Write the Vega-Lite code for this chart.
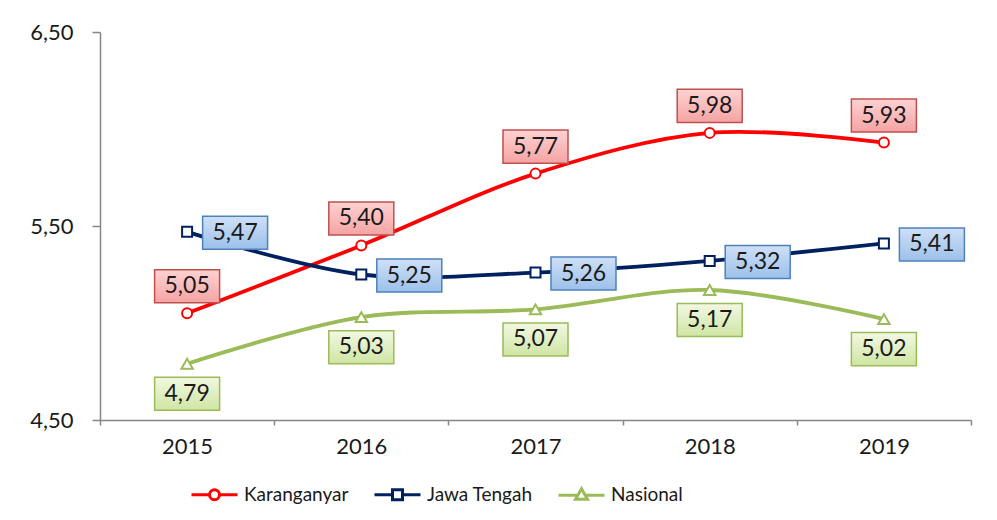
{
  "$schema": "https://vega.github.io/schema/vega-lite/v6.json",
  "width": 871,
  "height": 388,
  "autosize": {"type": "none"},
  "padding": {"left": 100, "top": 32, "right": 26, "bottom": 100},
  "background": "white",
  "config": {
    "locale": {"number": {"decimal": ",", "thousands": ".", "grouping": [3], "currency": ["", ""]}},
    "view": {"stroke": null},
    "font": "Lato",
    "legend": {
      "orient": "none", "legendX": 103, "legendY": 451, "direction": "horizontal", "padding": 0,
      "labelFont": "Lato", "labelFontSize": 19, "labelColor": "#1a1a1a", "labelOffset": 18, "columnPadding": 19,
      "symbolSize": 400, "symbolStrokeWidth": 3
    }
  },
  "data": {
    "values": [
      {"series": "Karanganyar", "year": "2015", "value": 5.05},
      {"series": "Karanganyar", "year": "2016", "value": 5.40},
      {"series": "Karanganyar", "year": "2017", "value": 5.77},
      {"series": "Karanganyar", "year": "2018", "value": 5.98},
      {"series": "Karanganyar", "year": "2019", "value": 5.93},
      {"series": "Jawa Tengah", "year": "2015", "value": 5.47},
      {"series": "Jawa Tengah", "year": "2016", "value": 5.25},
      {"series": "Jawa Tengah", "year": "2017", "value": 5.26},
      {"series": "Jawa Tengah", "year": "2018", "value": 5.32},
      {"series": "Jawa Tengah", "year": "2019", "value": 5.41},
      {"series": "Nasional", "year": "2015", "value": 4.79},
      {"series": "Nasional", "year": "2016", "value": 5.03},
      {"series": "Nasional", "year": "2017", "value": 5.07},
      {"series": "Nasional", "year": "2018", "value": 5.17},
      {"series": "Nasional", "year": "2019", "value": 5.02}
    ]
  },
  "encoding": {
    "x": {
      "field": "year", "type": "ordinal",
      "scale": {"type": "band", "paddingInner": 0, "paddingOuter": 0},
      "axis": {"title": null, "labelAngle": 0, "labelFont": "Lato", "labelFontSize": 22, "labelColor": "#1a1a1a", "labelPadding": 11, "tickSize": 5, "tickColor": "#868686", "tickWidth": 1.5, "domainColor": "#868686", "domainWidth": 1.5, "tickBand": "extent", "grid": false}
    },
    "y": {
      "field": "value", "type": "quantitative",
      "scale": {"domain": [4.5, 6.5], "nice": false, "zero": false},
      "axis": {"title": null, "values": [4.5, 5.5, 6.5], "format": ".2f", "labelFont": "Lato", "labelFontSize": 22, "labelColor": "#1a1a1a", "labelPadding": 19, "tickSize": 8, "tickColor": "#868686", "tickWidth": 1.5, "domainColor": "#868686", "domainWidth": 1.5, "grid": false}
    }
  },
  "layer": [
    {
      "mark": {"type": "line", "interpolate": "catmull-rom", "strokeWidth": 3.8},
      "encoding": {
        "color": {
          "field": "series", "type": "nominal",
          "scale": {"domain": ["Karanganyar", "Jawa Tengah", "Nasional"], "range": ["#FF0000", "#002060", "#9BBB59"]},
          "legend": {
            "title": null,
            "encode": {
              "symbols": {
                "update": {
                  "shape": {"signal": "datum.value === 'Karanganyar' ? 'M-2.3,0L-0.5,0M0.5,0L2.3,0M-0.5,0A0.5,0.5 0 1,0 0.5,0A0.5,0.5 0 1,0 -0.5,0Z' : datum.value === 'Jawa Tengah' ? 'M-2.3,0L-0.5,0M0.5,0L2.3,0M-0.5,-0.5L0.5,-0.5L0.5,0.5L-0.5,0.5Z' : 'M-2.3,0L-0.45,0M0.45,0L2.3,0M0,-0.65L0.6,0.4L-0.6,0.4Z'"},
                  "fill": {"value": "white"},
                  "strokeWidth": {"value": 3},
                  "opacity": {"value": 1}
                }
              }
            }
          }
        }
      }
    },
    {
      "transform": [{"filter": "datum.series === 'Karanganyar'"}],
      "mark": {"type": "point", "shape": "circle", "filled": false, "fill": "white", "stroke": "#FF0000", "opacity": 1, "strokeWidth": 2, "size": 100}
    },
    {
      "transform": [{"filter": "datum.series === 'Jawa Tengah'"}],
      "mark": {"type": "point", "shape": "square", "filled": false, "fill": "white", "stroke": "#002060", "opacity": 1, "strokeWidth": 2, "size": 100}
    },
    {
      "transform": [{"filter": "datum.series === 'Nasional'"}],
      "mark": {"type": "point", "shape": "triangle-up", "filled": false, "fill": "white", "stroke": "#9BBB59", "opacity": 1, "strokeWidth": 2, "size": 130}
    },
    {
      "transform": [{"filter": "datum.series === 'Karanganyar'"}],
      "layer": [
        {"mark": {"type": "point", "shape": "M-1,-0.508L1,-0.508L1,0.508L-1,0.508Z", "size": 4225, "filled": true, "opacity": 1,
          "fill": {"gradient": "linear", "x1": 0, "y1": 0, "x2": 0, "y2": 1, "stops": [{"offset": 0, "color": "#FFD2D2"}, {"offset": 1, "color": "#F5A3A3"}]},
          "stroke": "#C0504D", "strokeWidth": 1.5, "yOffset": -27}},
        {"mark": {"type": "text", "yOffset": -27, "font": "Lato", "fontSize": 23, "color": "#1a1a1a", "baseline": "middle", "align": "center"},
          "encoding": {"text": {"field": "value", "type": "quantitative", "format": ".2f"}}}
      ]
    },
    {
      "transform": [{"filter": "datum.series === 'Jawa Tengah'"}],
      "layer": [
        {"mark": {"type": "point", "shape": "M-1,-0.508L1,-0.508L1,0.508L-1,0.508Z", "size": 4225, "filled": true, "opacity": 1,
          "fill": {"gradient": "linear", "x1": 0, "y1": 0, "x2": 0, "y2": 1, "stops": [{"offset": 0, "color": "#CFE0F7"}, {"offset": 1, "color": "#9CC0EA"}]},
          "stroke": "#4F81BD", "strokeWidth": 1.5, "xOffset": 48, "yOffset": 1}},
        {"mark": {"type": "text", "xOffset": 48, "yOffset": 1, "font": "Lato", "fontSize": 23, "color": "#1a1a1a", "baseline": "middle", "align": "center"},
          "encoding": {"text": {"field": "value", "type": "quantitative", "format": ".2f"}}}
      ]
    },
    {
      "transform": [{"filter": "datum.series === 'Nasional'"}],
      "layer": [
        {"mark": {"type": "point", "shape": "M-1,-0.508L1,-0.508L1,0.508L-1,0.508Z", "size": 4225, "filled": true, "opacity": 1,
          "fill": {"gradient": "linear", "x1": 0, "y1": 0, "x2": 0, "y2": 1, "stops": [{"offset": 0, "color": "#F2F8E2"}, {"offset": 1, "color": "#CFE5A3"}]},
          "stroke": "#9BBB59", "strokeWidth": 1.5, "yOffset": 30}},
        {"mark": {"type": "text", "yOffset": 30, "font": "Lato", "fontSize": 23, "color": "#1a1a1a", "baseline": "middle", "align": "center"},
          "encoding": {"text": {"field": "value", "type": "quantitative", "format": ".2f"}}}
      ]
    }
  ]
}
